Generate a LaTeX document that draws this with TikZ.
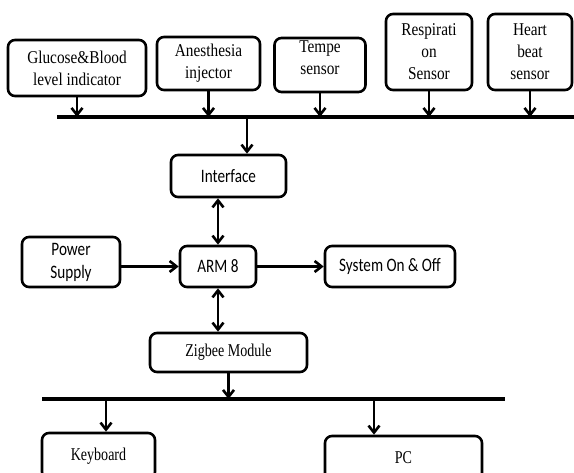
\documentclass[tikz,border=0pt]{standalone}
\usepackage{fontspec}
\setmainfont{Liberation Serif}
\newfontfamily\tsr[FakeStretch=0.85]{Liberation Serif}
\newfontfamily\zsr[FakeStretch=0.78]{Liberation Serif}
\newfontfamily\calib[FakeStretch=0.8]{Carlito}
\usetikzlibrary{arrows.meta,calc}
\begin{document}
\begin{tikzpicture}[x=1pt,y=-1pt,
 box/.style={draw,line width=2.6pt,rounded corners=7pt,inner sep=1pt,align=center,font=\tsr\fontsize{18}{22}\selectfont},
 sbox/.style={box,font=\calib\fontsize{19}{23}\selectfont},
 zbox/.style={box,font=\zsr\fontsize{18}{22}\selectfont},
 tip/.tip={Straight Barb[length=7pt,width=11pt,line width=2.6pt]},
 arr/.style={line width=2.6pt,-tip},
 darr/.style={line width=2.6pt,tip-tip},
 bus/.style={line width=4.5pt}]
\useasboundingbox (0,0) rectangle (574,473);
\clip (0,0) rectangle (574,473);
% top boxes
\node[box,minimum width=138,minimum height=56] (gluc) at (77,68) {Glucose\&Blood\\level indicator};
\node[box,minimum width=103,minimum height=53] (anes) at (208.5,63.5) {Anesthesia\\injector};
\node[box,minimum width=91,minimum height=54,text depth=15pt] (temp) at (320,65) {Tempe\\sensor};
\node[box,minimum width=86,minimum height=76] (resp) at (429,52) {Respirati\\on\\Sensor};
\node[box,minimum width=84,minimum height=76] (heart) at (530,52) {Heart\\beat\\sensor};
% top bus
\coordinate (tl) at (57,117);
\coordinate (tr) at (580,117);
\draw[bus] (tl) -- (tr);
\foreach \n in {gluc,anes,temp,resp,heart}
  \draw[arr] (\n.south) -- (\n.south |- tl);
% middle
\node[sbox,minimum width=115,minimum height=42] (intf) at (228.5,176) {Interface};
\node[sbox,minimum width=76,minimum height=41] (arm) at (218,266.5) {ARM 8};
\node[sbox,minimum width=98,minimum height=50] (pwr) at (71,262) {Power\\Supply};
\node[sbox,minimum width=130,minimum height=41] (sys) at (390,266.5) {System On \& Off};
\node[zbox,minimum width=157,minimum height=39] (zig) at (228.5,352.5) {Zigbee Module};
\coordinate (tap) at (247,117);
\draw[arr] (tap) -- (tap |- intf.north);
\draw[darr] (intf.south -| arm.north) -- (arm.north);
\draw[arr] (pwr.east |- arm.west) -- (arm.west);
\draw[arr] (arm.east) -- (sys.west);
\draw[darr] (arm.south) -- (arm.south |- zig.north);
% bottom bus
\coordinate (bl) at (42,399);
\coordinate (br) at (505,399);
\draw[bus] (bl) -- (br);
\draw[arr] (zig.south) -- (zig.south |- bl);
\node[zbox,minimum width=113,minimum height=46] (kbd) at (98.5,456) {Keyboard};
\node[zbox,minimum width=157,minimum height=44] (pc) at (403.5,458) {PC};
\coordinate (kt) at (106,399);
\coordinate (pt) at (374,399);
\draw[arr] (kt) -- (kt |- kbd.north);
\draw[arr] (pt) -- (pt |- pc.north);
\end{tikzpicture}
\end{document}
